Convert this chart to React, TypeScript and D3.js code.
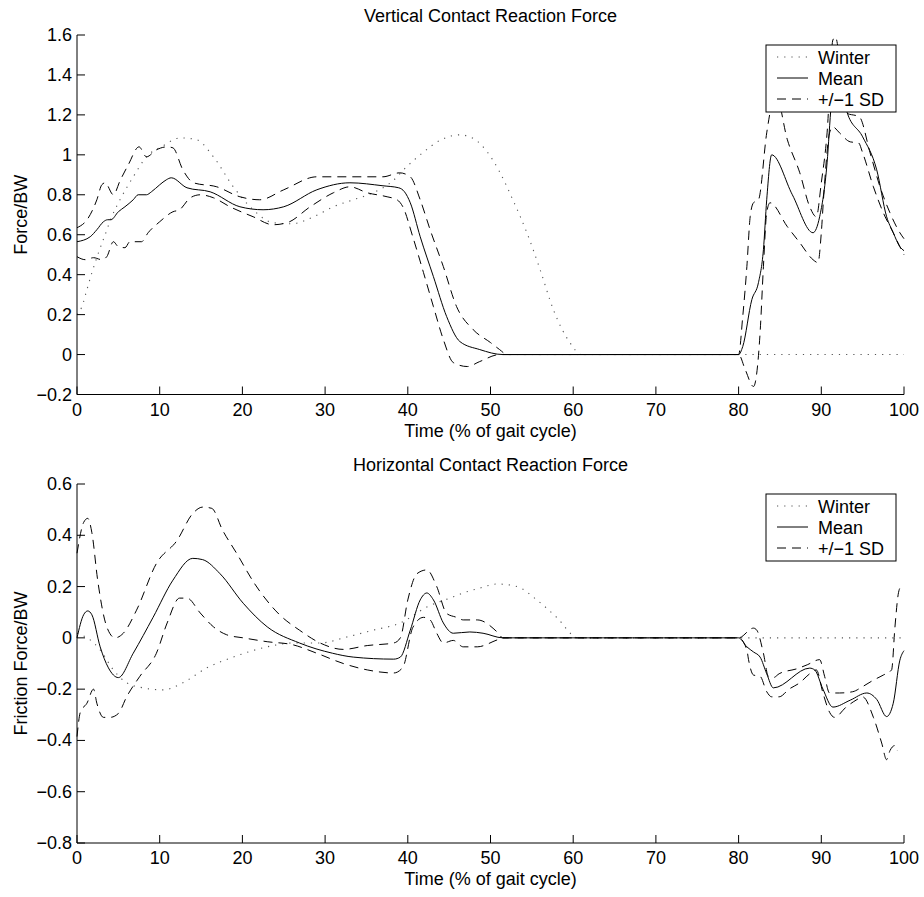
import React from "react";
import * as d3 from "d3";

// ---------- Vertical contact reaction force (Force/BW) ----------
const vWinterX = [0, 0.6, 1.2, 1.8, 2.6, 3.4, 4.2, 5.2, 6.8, 8.4, 10.4, 12.5, 14.5, 16.5, 18.9, 21.3, 23.7, 26, 28.6, 31, 33.4, 35.8, 38.2, 39.6, 41.8, 44, 46.3, 48, 49.6, 51.1, 52.7, 54.4, 56, 57.6, 59.6, 61, 100];
const vWinterY = [0.2, 0.24, 0.325, 0.41, 0.51, 0.6, 0.69, 0.775, 0.89, 0.99, 1.045, 1.085, 1.075, 0.99, 0.84, 0.725, 0.66, 0.655, 0.69, 0.74, 0.775, 0.81, 0.87, 0.93, 1.01, 1.075, 1.1, 1.08, 1.015, 0.915, 0.775, 0.61, 0.425, 0.225, 0.06, 0, 0];

const vMeanX = [0, 1.6, 2.4, 3.2, 3.7, 4.1, 5, 5.8, 6.8, 7.4, 8.4, 9, 10, 10.8, 11.4, 13.3, 16.1, 19.7, 22.5, 25, 29, 33, 37, 38.9, 39.6, 40.3, 41.5, 43.1, 44.7, 46.3, 48.7, 51.5, 80, 80.5, 81.6, 82.4, 83, 83.4, 84, 86.5, 89, 89.8, 90.7, 91.2, 92, 93.1, 95, 96.7, 97.9, 98.7, 99.5, 100];
const vMeanY = [0.565, 0.59, 0.625, 0.665, 0.675, 0.675, 0.715, 0.74, 0.775, 0.8, 0.8, 0.815, 0.85, 0.875, 0.885, 0.835, 0.815, 0.74, 0.725, 0.74, 0.825, 0.86, 0.845, 0.835, 0.815, 0.76, 0.59, 0.39, 0.19, 0.065, 0.025, 0, 0, 0.04, 0.275, 0.36, 0.525, 0.775, 1.0, 0.8, 0.61, 0.69, 0.96, 1.25, 1.42, 1.215, 1.09, 0.925, 0.69, 0.61, 0.54, 0.52];

const vSdHighX = [0, 1.3, 2.4, 3, 3.4, 4.4, 5.2, 6.2, 7.5, 8.4, 9.6, 10.9, 11.6, 12.8, 14.1, 16.9, 19.7, 22.1, 25, 29, 33, 37, 39, 40.3, 41.5, 42.7, 44.3, 45.9, 47.9, 50, 51.1, 52, 80, 80.5, 81, 81.4, 81.8, 82.4, 83.4, 84, 84.5, 85.9, 87.4, 88.6, 89.4, 90, 90.7, 91.4, 91.7, 93, 94.6, 95.9, 97.1, 98.3, 99.5, 100];
const vSdHighY = [0.635, 0.68, 0.775, 0.85, 0.86, 0.8, 0.87, 0.95, 1.04, 0.99, 1.025, 1.04, 1.035, 0.925, 0.86, 0.84, 0.79, 0.775, 0.825, 0.89, 0.89, 0.89, 0.91, 0.89, 0.775, 0.625, 0.44, 0.24, 0.125, 0.06, 0.025, 0, 0, 0.19, 0.44, 0.69, 0.76, 0.775, 1.11, 1.25, 1.3, 1.075, 0.91, 0.74, 0.69, 0.86, 1.11, 1.575, 1.59, 1.21, 1.19, 1.01, 0.84, 0.71, 0.61, 0.58];

const vSdLowX = [0, 1.0, 2, 3, 3.6, 4.4, 5, 5.8, 6.4, 7.8, 8.6, 10, 11.6, 12.4, 13.7, 14.9, 16.5, 18.5, 21.3, 23.7, 25.4, 28.2, 31, 33, 35.1, 37.5, 38.7, 39.4, 40.6, 41.9, 43.1, 44.3, 45.5, 47.2, 48.7, 51.1, 80, 80.8, 81.8, 82.6, 83, 83.4, 83.8, 85.9, 87.4, 89, 89.6, 90, 90.3, 91, 91.4, 92.2, 93.5, 94.5, 95, 96.3, 97.5, 98.7, 99.5, 100];
const vSdLowY = [0.49, 0.475, 0.485, 0.475, 0.49, 0.565, 0.54, 0.535, 0.565, 0.565, 0.61, 0.665, 0.715, 0.725, 0.785, 0.8, 0.785, 0.74, 0.69, 0.65, 0.66, 0.74, 0.81, 0.84, 0.81, 0.79, 0.775, 0.74, 0.59, 0.41, 0.24, 0.075, -0.04, -0.06, -0.035, 0, 0, -0.075, -0.16, 0.11, 0.44, 0.71, 0.76, 0.64, 0.56, 0.475, 0.46, 0.61, 0.8, 1.11, 1.14, 1.11, 1.065, 1.06, 1.01, 0.84, 0.71, 0.61, 0.54, 0.5];

// ---------- Horizontal contact reaction force (Friction Force/BW) ----------
const hWinterX = [0, 1.6, 2.8, 4.4, 6, 8, 10.4, 12.8, 15.7, 18.9, 23, 26.1, 29.4, 32.6, 35.8, 39.1, 42.3, 45.5, 46.7, 48.8, 50.8, 53.2, 55.6, 58, 60.6, 100];
const hWinterY = [0.018, -0.008, -0.047, -0.125, -0.175, -0.195, -0.203, -0.175, -0.117, -0.075, -0.035, -0.02, -0.02, 0.003, 0.03, 0.058, 0.12, 0.16, 0.175, 0.195, 0.21, 0.2, 0.148, 0.08, 0, 0];

const hMeanX = [0, 0.8, 1.3, 1.8, 2.8, 3.8, 5, 6.8, 9.2, 11.6, 14, 15.2, 17.3, 20.1, 23, 26.9, 30.9, 33.4, 38.3, 39.1, 40.3, 41.5, 42.3, 43.1, 44.3, 45.5, 47.5, 49.1, 51.5, 80, 81, 81.8, 82.6, 83.4, 84.2, 88.6, 89.2, 90.2, 91.4, 93.5, 95.5, 96.7, 97.9, 98.7, 99.5, 100];
const hMeanY = [0, 0.09, 0.105, 0.09, -0.035, -0.117, -0.155, -0.06, 0.08, 0.225, 0.31, 0.305, 0.25, 0.135, 0.043, -0.02, -0.06, -0.075, -0.083, -0.075, 0.03, 0.148, 0.175, 0.148, 0.058, 0.018, 0.023, 0.018, 0, 0, -0.035, -0.055, -0.075, -0.14, -0.195, -0.118, -0.125, -0.2, -0.27, -0.243, -0.215, -0.24, -0.307, -0.255, -0.087, -0.05];

const hSdHighX = [0, 0.8, 1.3, 1.8, 2.5, 3.6, 4.6, 5.6, 7.2, 9.6, 12.1, 14, 15.2, 16.3, 17.6, 19.3, 21.5, 24.5, 26.9, 29.4, 32.2, 35.1, 38.3, 39.1, 40, 41.1, 42.3, 43.5, 44.7, 45.9, 46.7, 48.4, 50.8, 51.5, 80, 81.8, 82.2, 83, 83.6, 84.2, 84.9, 87.1, 88.3, 89.8, 90.4, 91, 92.2, 93.8, 95, 96.3, 97.5, 98.5, 98.9, 99.3, 99.6];
const hSdHighY = [0.33, 0.45, 0.466, 0.41, 0.225, 0.043, 0, 0.018, 0.108, 0.29, 0.38, 0.485, 0.51, 0.505, 0.42, 0.33, 0.21, 0.09, 0.03, -0.02, -0.045, -0.03, -0.02, 0, 0.148, 0.25, 0.265, 0.2, 0.095, 0.08, 0.07, 0.07, 0.023, 0, 0, 0.038, 0.03, -0.06, -0.15, -0.155, -0.14, -0.12, -0.105, -0.085, -0.15, -0.215, -0.215, -0.21, -0.19, -0.165, -0.145, -0.125, 0.04, 0.17, 0.2];

const hSdLowX = [0, 0.4, 1.2, 2, 2.4, 3.2, 4, 5, 6, 7.6, 9.6, 10.9, 12.4, 13.3, 14.9, 16.5, 18.1, 20.1, 23, 26.1, 29, 32.2, 35.1, 38.3, 39.4, 40.6, 41.9, 42.7, 43.5, 44.3, 45.5, 46.7, 48.4, 50.8, 51.5, 80, 81, 81.2, 81.8, 82.6, 83.4, 84, 84.9, 86.1, 87.4, 88.6, 89.4, 90.2, 91, 91.6, 93, 94.2, 95, 96.3, 97.3, 97.9, 98.3, 98.9, 99.2];
const hSdLowY = [-0.385, -0.29, -0.255, -0.2, -0.255, -0.31, -0.31, -0.295, -0.23, -0.15, -0.06, 0.058, 0.155, 0.155, 0.097, 0.043, 0.012, 0, -0.015, -0.027, -0.06, -0.1, -0.125, -0.137, -0.115, 0.04, 0.08, 0.07, 0.018, -0.02, -0.01, -0.035, -0.035, -0.008, 0, 0, -0.047, -0.085, -0.145, -0.15, -0.21, -0.23, -0.23, -0.2, -0.175, -0.14, -0.125, -0.215, -0.29, -0.31, -0.27, -0.243, -0.23, -0.31, -0.41, -0.475, -0.44, -0.42, -0.44];

const xTicks = [0, 10, 20, 30, 40, 50, 60, 70, 80, 90, 100];
const vTicks = [-0.2, 0, 0.2, 0.4, 0.6, 0.8, 1, 1.2, 1.4, 1.6];
const hTicks = [-0.8, -0.6, -0.4, -0.2, 0, 0.2, 0.4, 0.6];
const legendLabels = ["Winter", "Mean", "+/\u22121 SD"];

const FONT = "'Liberation Sans', Arial, Helvetica, sans-serif";
const FS = 18;

function fmt(v: number) {
  const s = String(Math.round(v * 10) / 10);
  return s.replace("-", "\u2212");
}

type Series = { x: number[]; y: number[]; style: "dot" | "solid" | "dash" };

function styleProps(s: "dot" | "solid" | "dash") {
  if (s === "dot") return { stroke: "#555", strokeDasharray: "1.2,6", strokeWidth: 1.1 };
  if (s === "dash") return { stroke: "#000", strokeDasharray: "9,6", strokeWidth: 1 };
  return { stroke: "#000", strokeDasharray: undefined, strokeWidth: 1 };
}

function Panel(props: {
  top: number; bottom: number; yDomain: [number, number]; yTicks: number[];
  title: string; ylabel: string; series: Series[];
}) {
  const { top, bottom, yDomain, yTicks, title, ylabel, series } = props;
  const left = 77, right = 904;
  const x = d3.scaleLinear().domain([0, 100]).range([left, right]);
  const y = d3.scaleLinear().domain(yDomain).range([bottom, top]);
  const line = d3.line<[number, number]>().x(d => x(d[0])).y(d => y(d[1])).curve(d3.curveMonotoneX);
  const lx = 766, lw = 130, ly = top + 10, lh = 67;
  return (
    <g>
      <text x={(left + right) / 2} y={top - 13} textAnchor="middle" fontFamily={FONT} fontSize={FS}>{title}</text>
      {series.map((s, i) => {
        const pts = s.x.map((v, j) => [v, s.y[j]] as [number, number]);
        const sp = styleProps(s.style);
        return <path key={i} d={line(pts) || ""} fill="none" {...sp} />;
      })}
      <line x1={left} x2={left} y1={top} y2={bottom} stroke="#000" />
      <line x1={left} x2={right} y1={bottom} y2={bottom} stroke="#000" />
      {yTicks.map(t => (
        <g key={"y" + t}>
          <line x1={left} x2={left + 8} y1={y(t)} y2={y(t)} stroke="#000" />
          <text x={left - 5} y={y(t) + 6} textAnchor="end" fontFamily={FONT} fontSize={FS}>{fmt(t)}</text>
        </g>
      ))}
      {xTicks.map(t => (
        <g key={"x" + t}>
          <line x1={x(t)} x2={x(t)} y1={bottom} y2={bottom - 8} stroke="#000" />
          <text x={x(t)} y={bottom + 21} textAnchor="middle" fontFamily={FONT} fontSize={FS}>{t}</text>
        </g>
      ))}
      <text x={(left + right) / 2} y={bottom + 42} textAnchor="middle" fontFamily={FONT} fontSize={FS}>Time (% of gait cycle)</text>
      <text transform={`translate(27,${(top + bottom) / 2}) rotate(-90)`} textAnchor="middle" fontFamily={FONT} fontSize={FS}>{ylabel}</text>
      <rect x={lx} y={ly} width={lw} height={lh} fill="#fff" stroke="#000" />
      {legendLabels.map((lab, i) => {
        const cy = ly + 12 + i * 21;
        const sp = styleProps((["dot", "solid", "dash"] as const)[i]);
        return (
          <g key={lab}>
            <line x1={lx + 11} x2={lx + 42} y1={cy} y2={cy} {...sp} />
            <text x={lx + 52} y={cy + 6.5} fontFamily={FONT} fontSize={FS}>{lab}</text>
          </g>
        );
      })}
    </g>
  );
}

export default function App() {
  const vSeries: Series[] = [
    { x: vWinterX, y: vWinterY, style: "dot" },
    { x: vSdHighX, y: vSdHighY, style: "dash" },
    { x: vSdLowX, y: vSdLowY, style: "dash" },
    { x: vMeanX, y: vMeanY, style: "solid" },
  ];
  const hSeries: Series[] = [
    { x: hWinterX, y: hWinterY, style: "dot" },
    { x: hSdHighX, y: hSdHighY, style: "dash" },
    { x: hSdLowX, y: hSdLowY, style: "dash" },
    { x: hMeanX, y: hMeanY, style: "solid" },
  ];
  return (
    <svg width={924} height={897} style={{ position: "absolute", left: 0, top: 0, background: "#fff" }}>
      <Panel top={35} bottom={394.5} yDomain={[-0.2, 1.6]} yTicks={vTicks}
        title="Vertical Contact Reaction Force" ylabel="Force/BW" series={vSeries} />
      <Panel top={484} bottom={843} yDomain={[-0.8, 0.6]} yTicks={hTicks}
        title="Horizontal Contact Reaction Force" ylabel="Friction Force/BW" series={hSeries} />
    </svg>
  );
}
